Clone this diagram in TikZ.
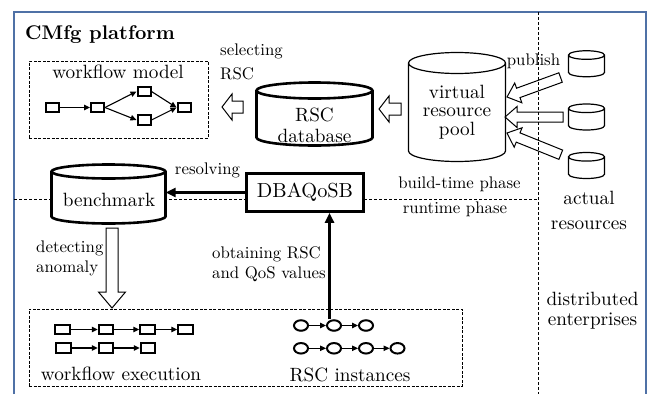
\documentclass[tikz,border=0pt]{standalone}
\usepackage{fontspec}
\setmainfont{lmroman10-regular.otf}[BoldFont=lmroman10-bold.otf]
\usetikzlibrary{shapes.geometric, arrows.meta}

\definecolor{framecol}{RGB}{79,113,166}
\newcommand\bigsz{\fontsize{19.2}{20}\selectfont}
\newcommand\smallsz{\fontsize{16.8}{20}\selectfont}

% hollow block arrow: tip x, tip y, angle, length, head length, head half width, shaft half width
\newcommand\hollowarrow[7]{%
  \draw[hollow, shift={(#1,#2)}, rotate=#3]
    (0,0) -- (#5,#6) -- (#5,#7) -- (#4,#7) -- (#4,-#7) -- (#5,-#7) -- (#5,-#6) -- cycle;}

% drum: name, centre x, centre y, width, height, end radius, line width
\newcommand\drum[7]{%
  \node[minimum width=#4pt, minimum height=#5pt] (#1) at (#2,#3) {};
  \draw[line width=#7, fill=white]
    ({#2-#4/2},{#3-#5/2+#6}) -- ({#2-#4/2},{#3+#5/2-#6})
    arc[start angle=180, end angle=0, x radius=#4/2, y radius=#6]
    -- ({#2+#4/2},{#3-#5/2+#6})
    arc[start angle=0, end angle=-180, x radius=#4/2, y radius=#6] -- cycle
    ({#2-#4/2},{#3-#5/2+#6})
    arc[start angle=180, end angle=0, x radius=#4/2, y radius=#6];}

\begin{document}
\begin{tikzpicture}[
  x=1pt, y=-1pt,
  every node/.style={font=\bigsz, inner sep=0pt},
  note/.style={font=\smallsz, align=left},
  border/.style={draw=framecol, line width=2pt},
  phase/.style={dash pattern=on 3pt off 2pt, line width=0.8pt},
  group/.style={draw, dash pattern=on 3pt off 1.5pt, line width=0.9pt},
  task/.style={rectangle, draw, line width=2pt, minimum width=13pt, minimum height=9.5pt},
  inst/.style={ellipse, draw, line width=2pt, minimum width=14pt, minimum height=10.5pt},
  flow/.style={-{Triangle[length=6pt, width=5.5pt]}, line width=1.1pt},
  arr/.style={-{Triangle[length=10pt, width=9pt]}, line width=2.6pt},
  hollow/.style={line width=1pt, line join=miter},
]
\useasboundingbox (0,0) rectangle (650,394);

% platform frame
\draw[border] (14,394) -- (14,12) -- (646,12) -- (646,394);

% build-time / runtime separator
\draw[phase] (14,199) -- (538,199);

% dashed groups
\node[group, minimum width=179pt, minimum height=77pt] (model) at (118.5,99.5) {};
\node[group, minimum width=433pt, minimum height=77pt] (exec) at (245.5,347.5) {};

% stores
\drum{rscdb}{314.5}{114}{116}{63}{8}{2.6pt}
\drum{pool}{457}{107}{97}{109}{10.5}{1.2pt}
\drum{bench}{108.5}{194}{114}{59}{7}{2.6pt}
\drum{res1}{586.5}{63.75}{36}{26}{4.3}{1.2pt}
\drum{res2}{586.5}{117}{36}{26}{4.3}{1.2pt}
\drum{res3}{586.5}{165.5}{36}{26}{4.3}{1.2pt}

% hollow arrows
\hollowarrow{222}{107}{0}{21}{10}{13}{6}
\hollowarrow{379}{109}{0}{22}{10}{13}{6}
\hollowarrow{507}{97}{20}{57}{12}{10.5}{5}
\hollowarrow{505}{117}{0}{58}{12}{10.5}{5}
\hollowarrow{507}{133}{-22}{58}{12}{10.5}{5}
\hollowarrow{112}{308}{90}{80}{16}{13.5}{6}

% DBAQoSB
\node[draw, fill=white, line width=2.6pt, minimum width=117pt, minimum height=38pt,
      font=\fontsize{20.3}{21}\selectfont] (qosb) at (305,192.5) {DBAQoSB};

% workflow model
\node[task] (m1) at (52.5,107.5) {};
\node[task] (m2) at (97.5,107.5) {};
\node[task] (m3) at (144,91.5) {};
\node[task] (m4) at (144,120) {};
\node[task] (m5) at (184,107.5) {};
\draw[flow] (m1.east) -- (m2.west);
\draw[flow] (m2.east) -- (m3.west);
\draw[flow] (m2.east) -- (m4.west);
\draw[flow] (m3.east) -- (m5.west);
\draw[flow] (m4.east) -- (m5.west);

% workflow execution
\foreach \x [count=\i] in {62.5,106,147.5,185.5}
  \node[task, minimum width=14.5pt] (e1\i) at (\x,329.5) {};
\foreach \x [count=\i] in {63.5,106,148}
  \node[task, minimum width=14.5pt] (e2\i) at (\x,348) {};
\draw[flow] (e11) -- (e12);
\draw[flow] (e12) -- (e13);
\draw[flow] (e13) -- (e14);
\draw[flow] (e21) -- (e22);
\draw[flow] (e22) -- (e23);

% RSC instances
\foreach \x [count=\i] in {301,334,366}
  \node[inst] (r1\i) at (\x,325.5) {};
\foreach \x [count=\i] in {301,334,366,397.5}
  \node[inst] (r2\i) at (\x,348.3) {};
\draw[flow] (r11) -- (r12);
\draw[flow] (r12) -- (r13);
\draw[flow] (r21) -- (r22);
\draw[flow] (r22) -- (r23);
\draw[flow] (r23) -- (r24);

% resolving / obtaining
\draw[arr] (qosb.west) -- (qosb.west -| bench.east);
\coordinate (tap) at ([xshift=-4.5pt]r12.north);
\draw[arr] (tap) -- (tap |- qosb.south);

% texts
\node[anchor=west, font=\fontsize{19.8}{20}\selectfont\bfseries] (title) at (25,34.5) {CMfg platform};
\node[note, anchor=west] (selecting) at (220,61.7) {selecting\\[4pt]RSC};
\node (modeltxt) at (118,71.7) {workflow model};
\node[align=center] (rscdbtxt) at (314.5,125.5) {RSC\\[1.5pt]database};
\node[align=center] (pooltxt) at (457,112) {virtual\\[-1.5pt]resource\\[-1.5pt]pool};
\node (benchtxt) at (109,200) {benchmark};
\node[note] (publish) at (533.5,61) {publish};
\node[note] (resolving) at (207.5,170) {resolving};
\node[note] (buildtime) at (459.5,184.5) {build-time phase};
\node[note] (runtime) at (455,209) {runtime phase};
\node[align=center] (actual) at (589,210) {actual\\[5pt]resources};
\node[note, anchor=west] (detecting) at (36,258.5) {detecting\\anomaly};
\node[note, anchor=west] (obtaining) at (212,264.5) {obtaining RSC\\and QoS values};
\node[anchor=base] (exectxt) at (121,380) {workflow execution};
\node[anchor=base] (insttxt) at (350,381.5) {RSC instances};
\node[align=center] (enterprises) at (592.5,311) {distributed\\enterprises};

% resources / platform separator
\draw[phase] (538,12) -- (538,394);

\end{tikzpicture}
\end{document}
